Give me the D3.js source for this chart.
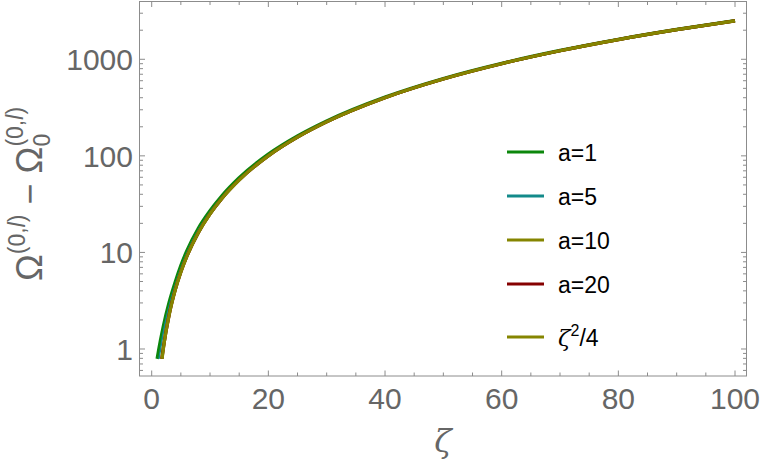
<!DOCTYPE html>
<html><head><meta charset="utf-8">
<script src="https://cdn.jsdelivr.net/npm/d3@7"></script>
<style>body{margin:0;background:#fff}svg{display:block}</style>
</head><body>
<svg id="c" width="763" height="469"></svg>
<script>
// ---- data ----
const seriesNames = ["a=1", "a=5", "a=10", "a=20", "ζ²/4"];
const seriesColors = ["#0b870b", "#138a8a", "#858500", "#850000", "#858500"];

const zetaA1  = [0.94, 1, 1.5, 2, 3, 4, 5, 6, 8, 10, 12, 15, 20, 25, 30, 40, 50, 60, 70, 80, 90, 100];
const valA1   = [0.79, 0.83, 1.22, 1.72, 3.05, 4.85, 7.3, 10.3, 17.8, 27.0, 38.3, 59.2, 104, 160.5, 229.5, 405.5, 631.5, 907, 1233, 1609, 2035, 2511];
const zetaA5  = [1.25, 1.5, 2, 3, 4, 5, 6, 8, 10, 12, 15, 20, 25, 30, 40, 50, 60, 70, 80, 90, 100];
const valA5   = [0.79, 0.98, 1.5, 2.8, 4.55, 6.9, 9.8, 17.1, 26.2, 37.3, 57.8, 102, 158.5, 227.5, 403, 628.5, 904, 1229.5, 1605, 2030.5, 2506];
const zetaA10 = [1.72, 2, 3, 4, 5, 6, 8, 10, 12, 15, 20, 25, 30, 40, 50, 60, 70, 80, 90, 100];
const valA10  = [0.79, 1.05, 2.3, 4.05, 6.3, 9.05, 16.05, 25.05, 36.05, 56.3, 100.1, 156.3, 225.1, 400.1, 625.1, 900.1, 1225, 1600, 2025, 2500];
const zetaA20 = [1.75, 2, 3, 4, 5, 6, 8, 10, 12, 15, 20, 25, 30, 40, 50, 60, 70, 80, 90, 100];
const valA20  = [0.79, 1.02, 2.27, 4.02, 6.27, 9.02, 16.02, 25.02, 36.02, 56.27, 100, 156.3, 225, 400, 625, 900, 1225, 1600, 2025, 2500];
const zetaQ   = [1.78, 2, 3, 4, 5, 6, 8, 10, 12, 15, 20, 25, 30, 40, 50, 60, 70, 80, 90, 100];
const valQ    = [0.79, 1, 2.25, 4, 6.25, 9, 16, 25, 36, 56.25, 100, 156.25, 225, 400, 625, 900, 1225, 1600, 2025, 2500];

const xTickValues = [0, 20, 40, 60, 80, 100];
const yTickValues = [1, 10, 100, 1000];
const yTickLabels = ["1", "10", "100", "1000"];

// ---- drawing ----
const svg = d3.select("#c");
const L = 139.5, R = 746.5, T = 1.5, B = 376;
const x = d3.scaleLinear().domain([-2.09, 101.97]).range([L, R]);
const y = d3.scaleLog().domain([0.5253, 3966]).range([B, T]);

const gray = "#8c8c8c", labelGray = "#666666";
const font = "'Liberation Sans', Arial, sans-serif";

svg.append("defs").append("clipPath").attr("id","clip")
  .append("rect").attr("x",L).attr("y",T).attr("width",R-L).attr("height",B-T);

// curves
const series = [
  {z: zetaA1, v: valA1, w: 3.4},
  {z: zetaA5, v: valA5, w: 1.5},
  {z: zetaA10, v: valA10, w: 3.2},
  {z: zetaA20, v: valA20, w: 3.2},
  {z: zetaQ, v: valQ, w: 3.2}
];
const line = d3.line().curve(d3.curveMonotoneX).x(d => x(d[0])).y(d => y(d[1]));
const gC = svg.append("g").attr("clip-path","url(#clip)");
series.forEach((s, i) => {
  gC.append("path").datum(s.z.map((z, k) => [z, s.v[k]]))
    .attr("d", line).attr("fill","none")
    .attr("stroke", seriesColors[i]).attr("stroke-width", s.w)
    .attr("stroke-linejoin","round");
});

// frame
svg.append("rect").attr("x",L).attr("y",T).attr("width",R-L).attr("height",B-T)
  .attr("fill","none").attr("stroke",gray).attr("stroke-width",1);

// x ticks
const xMinor = d3.range(0, 101, 5).filter(v => !xTickValues.includes(v));
const gT = svg.append("g").attr("stroke",gray).attr("stroke-width",1);
xTickValues.forEach(v => {
  gT.append("line").attr("x1",x(v)).attr("x2",x(v)).attr("y1",B).attr("y2",B-5.5);
  gT.append("line").attr("x1",x(v)).attr("x2",x(v)).attr("y1",T).attr("y2",T+5.5);
});
xMinor.forEach(v => {
  gT.append("line").attr("x1",x(v)).attr("x2",x(v)).attr("y1",B).attr("y2",B-3.5);
  gT.append("line").attr("x1",x(v)).attr("x2",x(v)).attr("y1",T).attr("y2",T+3.5);
});
// y ticks
const yMinor = [];
[0.1, 1, 10, 100, 1000].forEach(d => { for (let k = 2; k <= 9; k++) { const v = d*k; if (v >= y.domain()[0] && v <= y.domain()[1]) yMinor.push(v); } });
yTickValues.forEach(v => {
  gT.append("line").attr("x1",L).attr("x2",L+5.5).attr("y1",y(v)).attr("y2",y(v));
  gT.append("line").attr("x1",R).attr("x2",R-5.5).attr("y1",y(v)).attr("y2",y(v));
});
yMinor.forEach(v => {
  gT.append("line").attr("x1",L).attr("x2",L+3.5).attr("y1",y(v)).attr("y2",y(v));
  gT.append("line").attr("x1",R).attr("x2",R-3.5).attr("y1",y(v)).attr("y2",y(v));
});

// tick labels
xTickValues.forEach(v => {
  svg.append("text").attr("x",x(v)).attr("y",409).attr("text-anchor","middle")
    .attr("font-family",font).attr("font-size",30).attr("fill",labelGray).text(v);
});
yTickValues.forEach((v, i) => {
  svg.append("text").attr("x",133).attr("y",y(v)+11).attr("text-anchor","end")
    .attr("font-family",font).attr("font-size",30).attr("fill",labelGray).text(yTickLabels[i]);
});

// x label
svg.append("text").attr("x",443).attr("y",452).attr("text-anchor","middle")
  .attr("font-family","'DejaVu Serif', serif").attr("font-style","italic")
  .attr("font-size",32).attr("fill",labelGray).text("ζ");

// y label
const yl = svg.append("text").attr("transform","translate(42,194) rotate(-90)")
  .attr("text-anchor","middle").attr("font-family",font).attr("font-size",36).attr("fill",labelGray);
yl.append("tspan").text("Ω");
yl.append("tspan").attr("font-size",23).attr("dy",-17).text("(0,");
yl.append("tspan").attr("font-size",23).attr("font-style","italic").text("l");
yl.append("tspan").attr("font-size",23).text(")");
yl.append("tspan").attr("dy",17).text(" − Ω");
yl.append("tspan").attr("font-size",23).attr("dy",8).text("0");
yl.append("tspan").attr("font-size",23).attr("dx",-12.8).attr("dy",-27).text("(0,");
yl.append("tspan").attr("font-size",23).attr("font-style","italic").text("l");
yl.append("tspan").attr("font-size",23).text(")");

// legend
const legY = [152, 196, 240, 284, 337];
const lg = svg.append("g");
seriesNames.forEach((n, i) => {
  lg.append("line").attr("x1",507).attr("x2",544).attr("y1",legY[i]).attr("y2",legY[i])
    .attr("stroke",seriesColors[i]).attr("stroke-width",3);
  const t = lg.append("text").attr("x",558).attr("y",legY[i]+8.5)
    .attr("font-family",font).attr("font-size",23).attr("fill","#000");
  if (i < 4) t.text(n);
  else {
    t.append("tspan").attr("font-style","italic").attr("font-family","'DejaVu Serif', serif").text("ζ");
    t.append("tspan").attr("font-size",16).attr("dy",-10).text("2");
    t.append("tspan").attr("dy",10).text("/4");
  }
});
</script>
</body></html>
